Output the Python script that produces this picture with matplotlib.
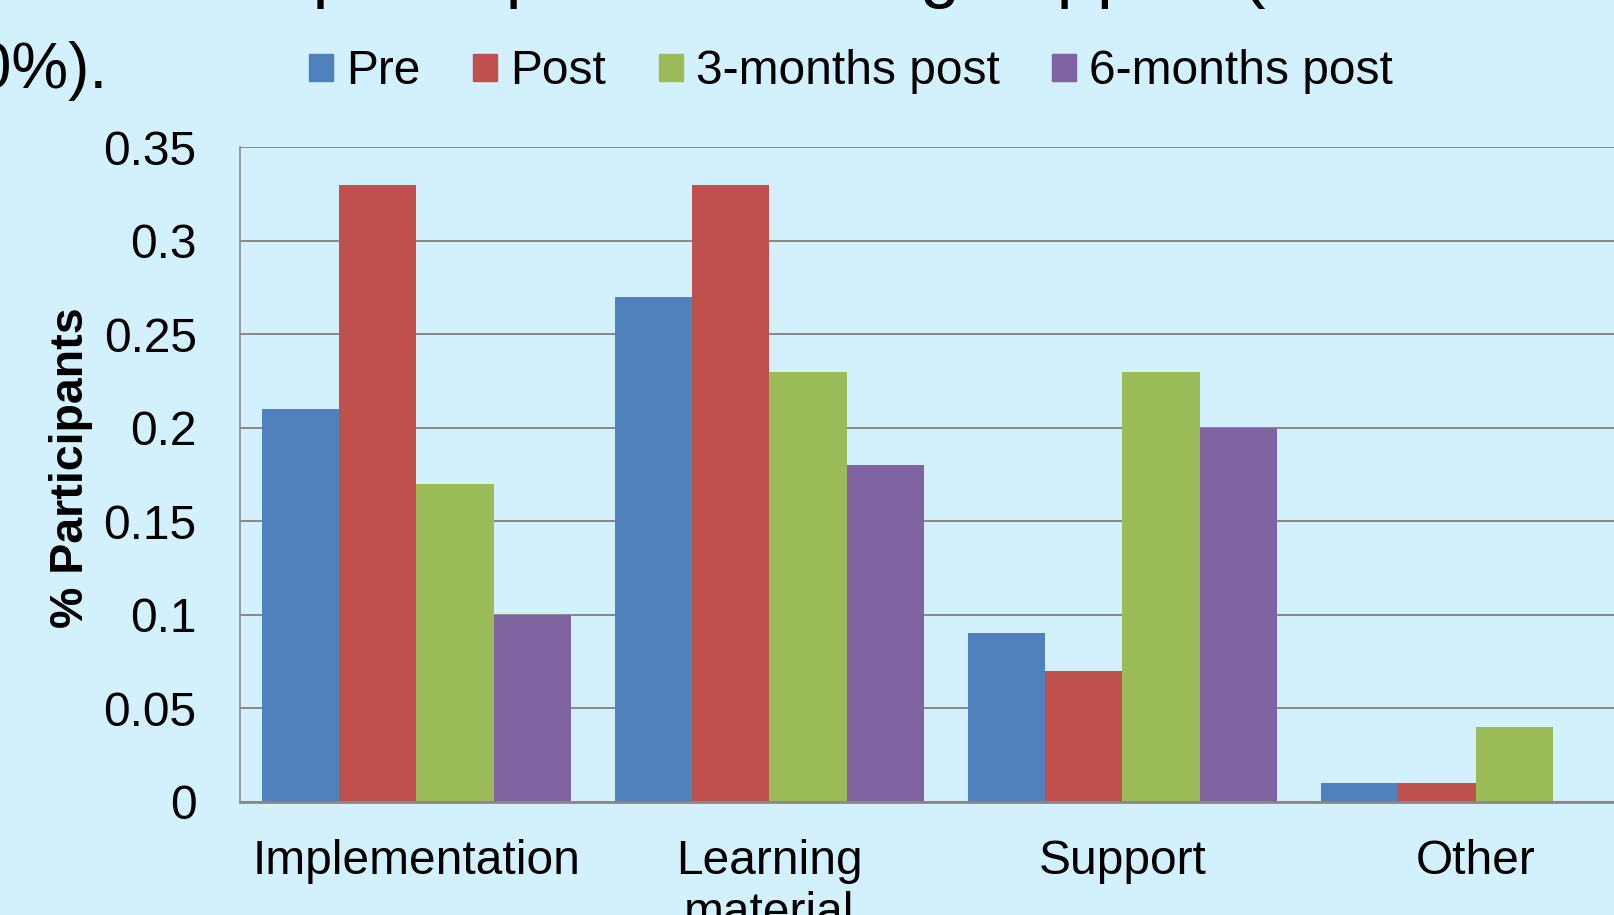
import matplotlib
matplotlib.use('Agg')
import matplotlib.pyplot as plt
import numpy as np
from matplotlib.patches import Rectangle

# --- Data ---
categories = ['Implementation', 'Learning\nmaterial', 'Support', 'Other']
series_names = ['Pre', 'Post', '3-months post', '6-months post']
pre = [0.21, 0.27, 0.09, 0.01]
post = [0.33, 0.33, 0.07, 0.01]
three_months = [0.17, 0.23, 0.23, 0.04]
six_months = [0.10, 0.18, 0.20, 0.00]
y_ticks = [0, 0.05, 0.1, 0.15, 0.2, 0.25, 0.3, 0.35]
y_tick_labels = ['0', '0.05', '0.1', '0.15', '0.2', '0.25', '0.3', '0.35']

colors = ['#4F81BD', '#C0504D', '#9BBB59', '#8064A2']
bg = '#D2F1FC'
grid_col = '#888888'

plt.rcParams['font.family'] = ['Liberation Sans', 'DejaVu Sans']

# draw on a taller canvas, then cut off the extra strip on top
# (Agg drops text that sticks out above the canvas)
W, H, EXTRA = 1614, 915, 40
HT = H + EXTRA


def fy(py):
    # pixel row in the final picture (from top) -> figure fraction
    return 1 - (py + EXTRA) / HT


fig = plt.figure(figsize=(W / 100, HT / 100), dpi=100, facecolor=bg)
# plot area runs past the right edge of the (cropped) slide
ax = fig.add_axes([239.8 / W, (H - 801.8) / HT, 0.875, 654.6 / HT])
ax.set_facecolor(bg)

x = np.arange(len(categories))
w = 0.219
all_series = [pre, post, three_months, six_months]
for i, vals in enumerate(all_series):
    ax.bar(x + (i - 1.5) * w, vals, width=w, color=colors[i], linewidth=0, zorder=3)

ax.set_xlim(-0.5, len(categories) - 0.5)
ax.set_ylim(0, 0.35)
ax.set_yticks(y_ticks)
ax.set_yticklabels(y_tick_labels)
ax.set_xticks(x)
ax.set_xticklabels(categories)
ax.tick_params(axis='y', length=0, pad=31, labelsize=34.5)
ax.tick_params(axis='x', length=0, pad=27, labelsize=34.5)

ax.grid(axis='y', color=grid_col, linewidth=1.4, zorder=0)
ax.set_axisbelow(True)
for s in ['top', 'right']:
    ax.spines[s].set_visible(False)
ax.spines['left'].set_color(grid_col)
ax.spines['left'].set_linewidth(1.2)
ax.spines['bottom'].set_color(grid_col)
ax.spines['bottom'].set_linewidth(2)
ax.spines['bottom'].set_zorder(4)

fig.text(71 / W, fy(468), '% Participants', rotation=90, fontsize=33.5,
         fontweight='bold', ha='center', va='center')

# legend
handles = [Rectangle((0, 0), 1, 1, color=c) for c in colors]
fig.legend(handles, series_names, loc='center', bbox_to_anchor=(851 / W, fy(72)),
           ncol=4, frameon=False, fontsize=34.5, handlelength=0.5, handleheight=0.5,
           handletextpad=0.27, columnspacing=1.1, borderpad=0)

# slide title text, cropped by the picture edges
fig.text(1266 / W, fy(-6), 'Most participants needing support (', fontsize=52,
         ha='right', va='baseline')
fig.text(108 / W, fy(88), '<20%).', fontsize=46, ha='right', va='baseline')

fig.canvas.draw()
img = np.asarray(fig.canvas.buffer_rgba())[EXTRA:EXTRA + H, :W]
plt.imsave('out.png', img)
